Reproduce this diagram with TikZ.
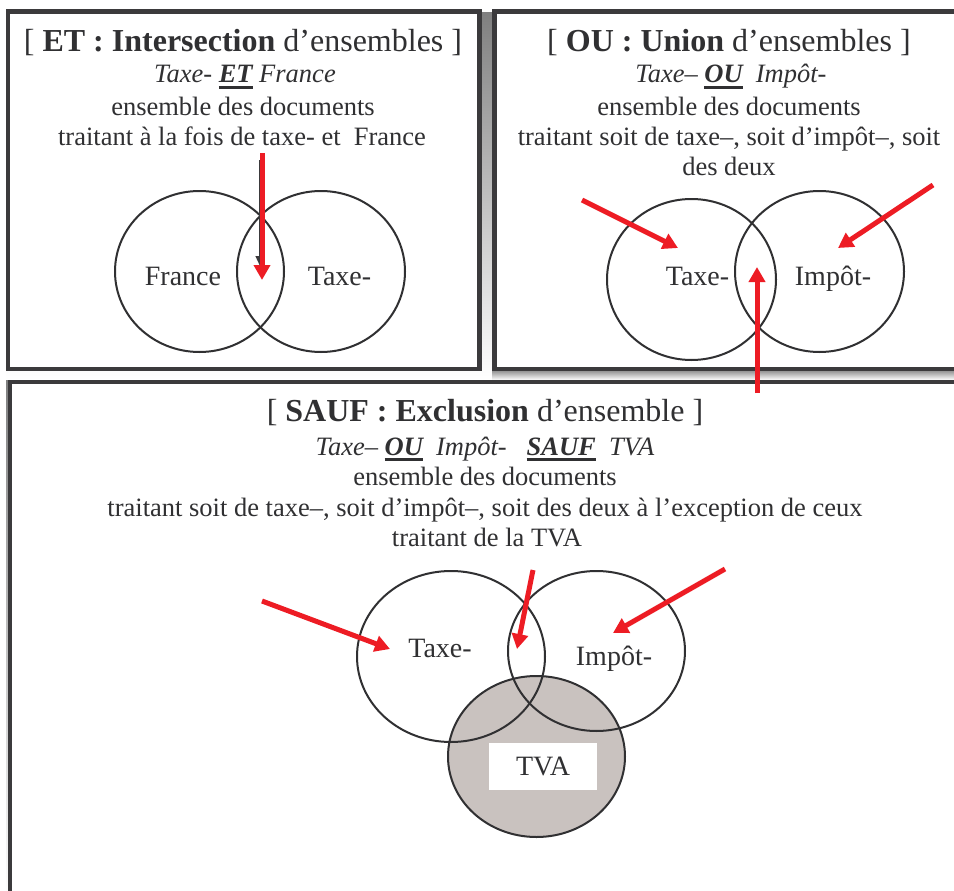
\documentclass[tikz,border=0pt]{standalone}
\usepackage{fontspec}
\setmainfont{Liberation Serif}
\usetikzlibrary{arrows.meta,shapes.geometric}
\definecolor{frame}{HTML}{3B3A3C}
\definecolor{shade}{HTML}{8F827D}
\definecolor{ink}{HTML}{303032}
\definecolor{tvafill}{HTML}{C9C2BF}
\definecolor{arrowred}{HTML}{ED1C24}
\newsavebox\ulsave
\newcommand\ulbox[1]{\sbox\ulsave{#1}\rlap{\rule[-6pt]{\wd\ulsave}{2.8pt}}\usebox\ulsave}
\tikzset{
  headline/.style={anchor=base, text=ink, inner sep=0pt, font=\fontsize{32}{38}\selectfont},
  bodyline/.style={anchor=base, text=ink, inner sep=0pt, font=\fontsize{26.5}{32}\selectfont},
  italline/.style={anchor=base, text=ink, inner sep=0pt, font=\fontsize{26.5}{32}\selectfont\itshape},
  setlabel/.style={anchor=base, text=ink, inner sep=0pt, font=\fontsize{28}{34}\selectfont},
  venn/.style={draw=ink, line width=2pt, ellipse, inner sep=0pt},
  panel/.style={draw=frame, line width=4.5pt, fill=white},
  pointer/.style={draw=arrowred, line width=5pt, -{Triangle[length=15pt,width=16pt]}},
}
\begin{document}
\begin{tikzpicture}[x=1pt,y=-1pt]
\useasboundingbox (0,0) rectangle (954,891);
\clip (0,0) rectangle (954,891);
% frames and shadows
\fill[shade] (6,13) rectangle (492,380);
\fill[shade] (492,369) rectangle (960,380);
\fill[shade] (6,380) rectangle (8,900);
\draw[panel] (8,11.5) rectangle (479.5,369);
\draw[panel] (494.5,11.5) rectangle (962,369);
\draw[panel] (10,382) rectangle (962,900);

% ---------- top-left panel ----------
\node[headline] (tlh) at (243,52) {[ \textbf{ET : Intersection} d’ensembles ]};
\node[italline] (tli) at (245,83) {Taxe- \ulbox{\textbf{ET}} France};
\node[bodyline] (tl3) at (243,115) {ensemble des documents};
\node[bodyline] (tl4) at (242,145) {traitant à la fois de taxe- et \ France};
\node[venn, minimum width=169pt, minimum height=161pt] (tlf) at (199.5,271.5) {};
\node[venn, minimum width=168pt, minimum height=161pt] (tlt) at (321,271.5) {};
\node[setlabel] (tlfl) at (183,285) {France};
\node[setlabel] (tltl) at (339.5,285) {Taxe-};
\coordinate (tlb0) at (260,160);
\coordinate (tlb1) at (260,266);
\draw[frame, line width=1.2pt, -{Triangle[length=10pt,width=9pt]}] (tlb0) -- (tlb1);
\coordinate (tlr0) at (262,153);
\coordinate (tlr1) at (262,280);
\draw[pointer] (tlr0) -- (tlr1);

% ---------- top-right panel ----------
\node[headline] (trh) at (729,52) {[ \textbf{OU : Union} d’ensembles ]};
\node[italline] (tri) at (731,83) {Taxe– \ulbox{\textbf{OU}} \ Impôt-};
\node[bodyline] (tr3) at (729,115) {ensemble des documents};
\node[bodyline] (tr4) at (729,145) {traitant soit de taxe–, soit d’impôt–, soit};
\node[bodyline] (tr5) at (729,175) {des deux};
\node[venn, minimum width=169pt, minimum height=161pt] (trt) at (691.5,279.5) {};
\node[venn, minimum width=169pt, minimum height=161pt] (tri2) at (819.5,271.5) {};
\node[setlabel] (trtl) at (697.5,285) {Taxe-};
\node[setlabel] (tril) at (833,285) {Impôt-};
\coordinate (tra0) at (582,200);
\coordinate (tra1) at (678,248);
\coordinate (trb0) at (933,185);
\coordinate (trb1) at (838,248);
\coordinate (trc0) at (757,393);
\coordinate (trc1) at (757,267);
\draw[pointer] (tra0) -- (tra1);
\draw[pointer] (trb0) -- (trb1);
\draw[pointer] (trc0) -- (trc1);

% ---------- bottom panel ----------
\node[headline] (bh) at (485,421.5) {[ \textbf{SAUF : Exclusion} d’ensemble ]};
\node[italline] (bi) at (485,455) {Taxe– \ulbox{\textbf{OU}} \ Impôt- \ \ \ulbox{\textbf{SAUF}} \ TVA};
\node[bodyline] (b3) at (485,485.5) {ensemble des documents};
\node[bodyline] (b4) at (485,516.5) {traitant soit de taxe–, soit d’impôt–, soit des deux à l’exception de ceux};
\node[bodyline] (b5) at (487,546.5) {traitant de la TVA};
\node[venn, fill=tvafill, minimum width=177pt, minimum height=161pt] (bv) at (536.5,756.5) {};
\node[venn, minimum width=188pt, minimum height=171pt] (bt) at (451,656.5) {};
\node[venn, minimum width=177pt, minimum height=160pt] (bp) at (596.5,651) {};
\node[fill=white, text=ink, minimum width=108pt, minimum height=47pt, font=\fontsize{28}{34}\selectfont] (bvl) at (543,766.5) {TVA};
\node[setlabel] (btl) at (440,657) {Taxe-};
\node[setlabel] (bpl) at (614,665) {Impôt-};
\coordinate (ba0) at (262,601);
\coordinate (ba1) at (390,649);
\coordinate (bb0) at (533,570);
\coordinate (bb1) at (517,649);
\coordinate (bc0) at (725,569);
\coordinate (bc1) at (613,633);
\draw[pointer] (ba0) -- (ba1);
\draw[pointer] (bb0) -- (bb1);
\draw[pointer] (bc0) -- (bc1);
\end{tikzpicture}
\end{document}
